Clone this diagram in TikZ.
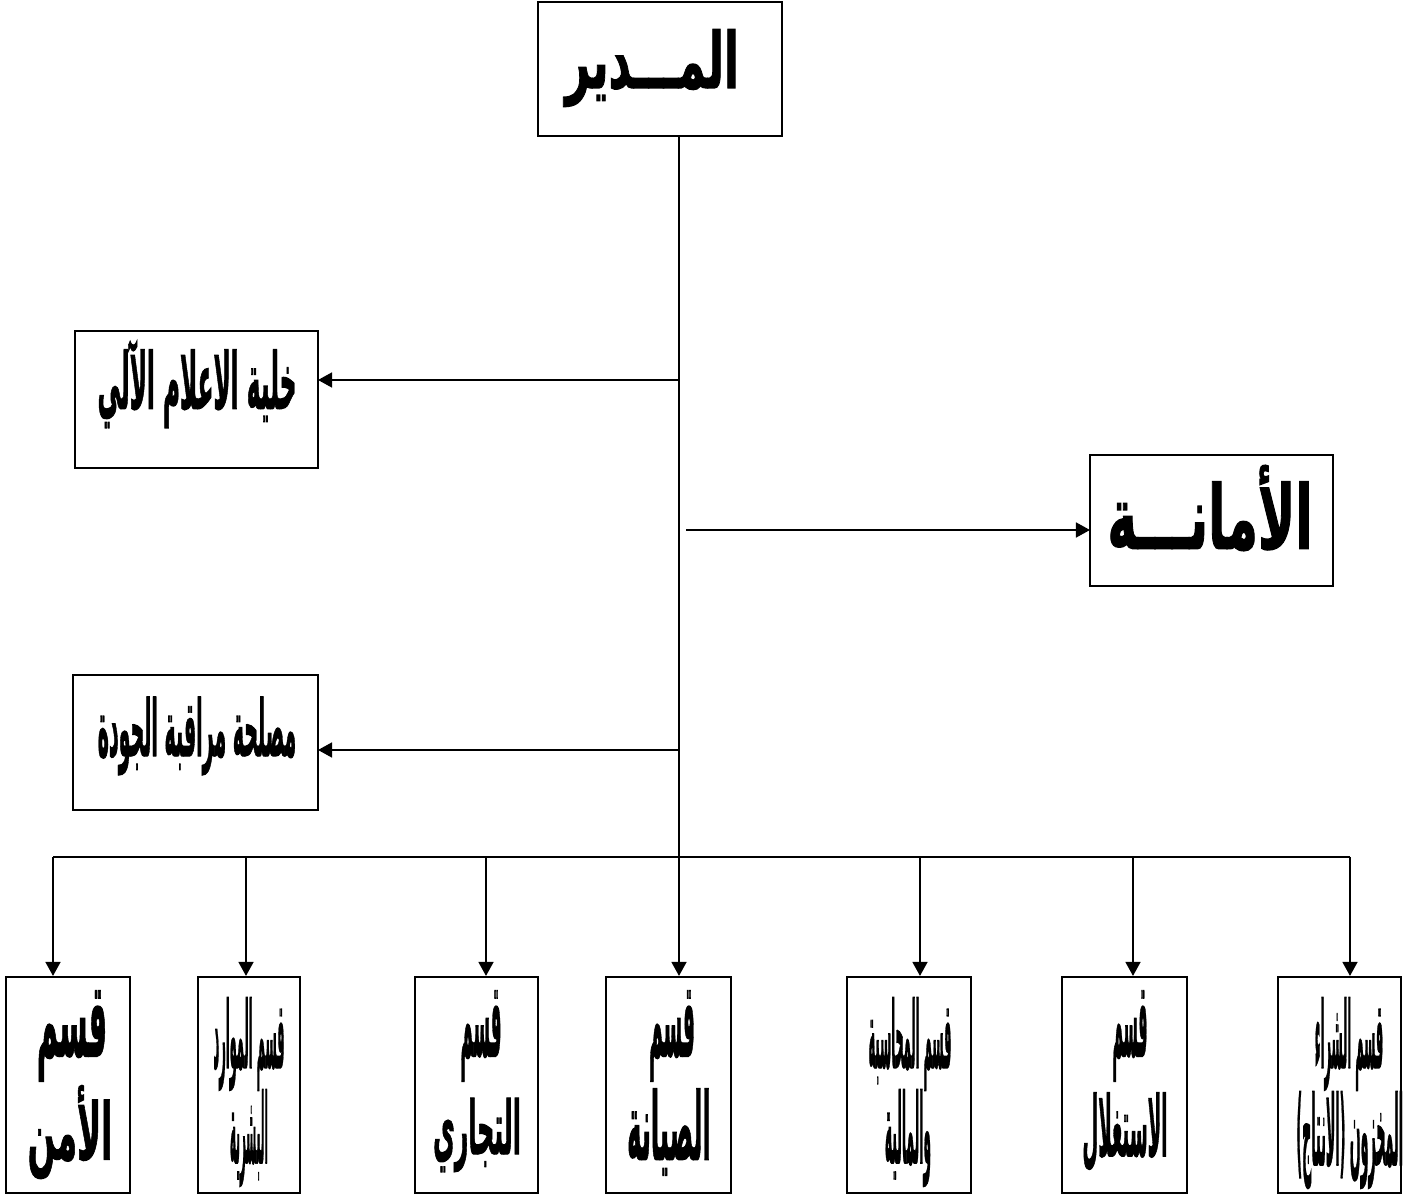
\documentclass[tikz,border=0pt]{standalone}
\usepackage{fontspec}
\usepackage{graphicx}
\usetikzlibrary{arrows.meta,fit,calc}
\TeXXeTstate=1
\newfontfamily\arabicfont[Script=Arabic,FakeBold=1.6]{DejaVu Sans Bold}
\newcommand\artx[4]{\scalebox{#2}[#3]{\fontsize{#1}{#1}\arabicfont #4}}
\begin{document}
\begin{tikzpicture}[x=0.02cm,y=-0.02cm,
  box/.style={draw, line width=1.2pt, inner sep=0pt},
  lbl/.style={inner sep=0pt, anchor=center},
  arr/.style={line width=1.1pt, -{Triangle[length=8pt,width=8.5pt]}},
  ln/.style={line width=1.1pt}]
\fill[white] (0,0) rectangle (1418,1195);
\useasboundingbox (0,0) rectangle (1418,1195);
% boxes
\node[box, fit={(538,2) (782,136)}] (dir) {};
\node[box, fit={(1090,455) (1333,586)}] (ama) {};
\node[box, fit={(75,331) (318,468)}] (khl) {};
\node[box, fit={(73,675) (318,810)}] (msl) {};
\node[box, fit={(6,977) (130,1193)}] (b1) {};
\node[box, fit={(198,977) (300,1193)}] (b2) {};
\node[box, fit={(415,977) (538,1193)}] (b3) {};
\node[box, fit={(606,977) (731,1193)}] (b4) {};
\node[box, fit={(847,977) (971,1193)}] (b5) {};
\node[box, fit={(1062,977) (1187,1193)}] (b6) {};
\node[box, fit={(1278,977) (1401,1193)}] (b7) {};
% texts
\node[lbl] (tdir) at (652,68) {\artx{40pt}{0.62}{1.1}{\beginR المـــدير\endR}};
\node[lbl] (tama) at (1210,508) {\artx{42pt}{0.68}{1.2}{\beginR الأمانـــة\endR}};
\node[lbl] (tkhl) at (197,384) {\artx{24pt}{0.55}{1.85}{\beginR خلية الاعلام الآلي\endR}};
\node[lbl] (tmsl) at (197,736) {\artx{24pt}{0.45}{1.85}{\beginR مصلحة مراقبة الجودة\endR}};
\node[lbl] (t1a) at (72,1036) {\artx{28pt}{0.58}{2.1}{\beginR قسم\endR}};
\node[lbl] (t1b) at (70,1132) {\artx{28pt}{0.66}{1.6}{\beginR الأمن\endR}};
\node[lbl] (t2a) at (249,1044) {\artx{24pt}{0.27}{2.2}{\beginR قسم الموارد\endR}};
\node[lbl] (t2b) at (249,1138) {\artx{24pt}{0.24}{2.3}{\beginR البشرية\endR}};
\node[lbl] (t3a) at (481,1036) {\artx{28pt}{0.34}{2.1}{\beginR قسم\endR}};
\node[lbl] (t3b) at (477,1135) {\artx{28pt}{0.48}{1.5}{\beginR التجاري\endR}};
\node[lbl] (t4a) at (672,1036) {\artx{28pt}{0.38}{2.1}{\beginR قسم\endR}};
\node[lbl] (t4b) at (669,1132) {\artx{28pt}{0.49}{1.9}{\beginR الصيانة\endR}};
\node[lbl] (t5a) at (910,1044) {\artx{24pt}{0.27}{2.2}{\beginR قسم المحاسبة\endR}};
\node[lbl] (t5b) at (908,1138) {\artx{24pt}{0.29}{2.3}{\beginR والمالية\endR}};
\node[lbl] (t6a) at (1130,1036) {\artx{28pt}{0.29}{2.1}{\beginR قسم\endR}};
\node[lbl] (t6b) at (1125,1132) {\artx{28pt}{0.37}{1.7}{\beginR الاستغلال\endR}};
\node[lbl] (t7a) at (1349,1044) {\artx{24pt}{0.27}{2.2}{\beginR قسم الشراء\endR}};
\begin{scope}
\clip (b7.south west) rectangle (b7.north east);
\node[lbl, anchor=west] (t7b) at (1296,1140) {\artx{24pt}{0.3}{2.3}{\beginR والمخزون (الانتاج)\endR}};
\end{scope}
% connectors
\coordinate (trunk) at (679,136);
\coordinate (bus) at (679,857);
\coordinate (a1) at (53,857);
\coordinate (a2) at (246,857);
\coordinate (a3) at (486,857);
\coordinate (a5) at (920,857);
\coordinate (a6) at (1133,857);
\coordinate (a7) at (1350,857);
\coordinate (khlin) at (318,380);
\coordinate (mslin) at (318,750);
\coordinate (amain) at (1090,530);
\coordinate (amaout) at (686,530);
\draw[arr] (trunk) -- (trunk |- b4.north);
\draw[ln] (a1) -- (a7);
\draw[arr] (a1) -- (a1 |- b1.north);
\draw[arr] (a2) -- (a2 |- b2.north);
\draw[arr] (a3) -- (a3 |- b3.north);
\draw[arr] (a5) -- (a5 |- b5.north);
\draw[arr] (a6) -- (a6 |- b6.north);
\draw[arr] (a7) -- (a7 |- b7.north);
\draw[arr] (trunk |- khlin) -- (khlin);
\draw[arr] (trunk |- mslin) -- (mslin);
\draw[arr] (amaout) -- (amain);
\end{tikzpicture}
\end{document}
